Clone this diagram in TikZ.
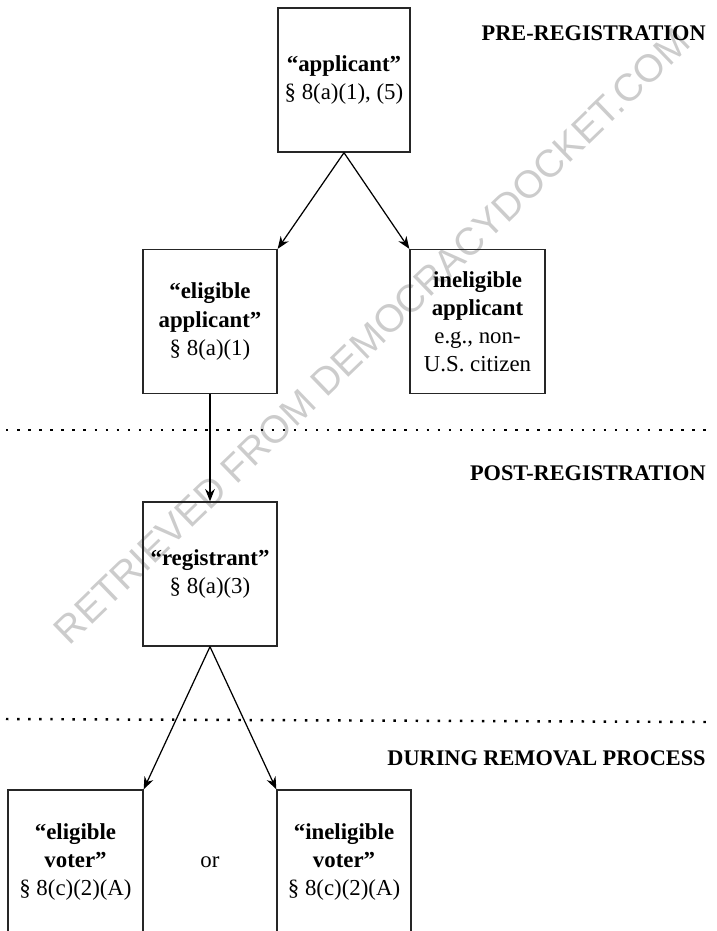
\documentclass[tikz,border=0pt]{standalone}
\usepackage{fontspec}
\setmainfont{Liberation Serif}
\newfontfamily\markfont{Liberation Sans}
\usepackage{tikz}
\usetikzlibrary{shapes.geometric, arrows, arrows.meta}
\tikzstyle{box} = [rectangle, draw=black!85, line width=0.8pt, align=center, inner sep=0pt, font=\fontsize{13}{16}\selectfont]
\tikzstyle{arrow} = [line width=0.7pt,->,>={Stealth[length=7pt, width=5.5pt]}]
\tikzstyle{phase} = [anchor=east, inner sep=0pt, font=\fontsize{12.7}{15}\selectfont\bfseries]
\tikzstyle{divider} = [line width=1.4pt, dash pattern=on 1.4pt off 4.9pt]

\begin{document}
\begin{tikzpicture}[x=0.02cm, y=-0.02cm]
                    \clip (0, 0) rectangle (717, 931);
                    % watermark
                    \node [rotate=44, text=black!20, font=\markfont\fontsize{22}{24}\selectfont] (mark) at (372, 336) {RETRIEVED FROM DEMOCRACYDOCKET.COM};
                    % boxes
                    \node [box, minimum width=2.64cm, minimum height=2.88cm] (app) at (344, 80) {\textbf{“applicant”}\\§ 8(a)(1), (5)};
                    \node [box, minimum width=2.68cm, minimum height=2.88cm] (eapp) at (210, 321.5) {\textbf{“eligible}\\\textbf{applicant”}\\§ 8(a)(1)};
                    \node [box, minimum width=2.7cm, minimum height=2.88cm] (iapp) at (477.5, 321.5) {\textbf{ineligible}\\\textbf{applicant}\\e.g., non-\\U.S. citizen};
                    \node [box, minimum width=2.68cm, minimum height=2.88cm] (reg) at (210, 574) {\textbf{“registrant”}\\§ 8(a)(3)};
                    \node [box, minimum width=2.7cm, minimum height=2.88cm] (evot) at (75.5, 862) {\textbf{“eligible}\\\textbf{voter”}\\§ 8(c)(2)(A)};
                    \node [box, minimum width=2.68cm, minimum height=2.88cm] (ivot) at (344, 862) {\textbf{“ineligible}\\\textbf{voter”}\\§ 8(c)(2)(A)};
                    \node [font=\fontsize{13}{16}\selectfont] (or) at (210, 862) {or};
                    % phases
                    \node [phase] (pre) at (706, 33) {PRE-REGISTRATION};
                    \node [phase] (post) at (706, 473) {POST-REGISTRATION};
                    \node [phase] (during) at (706, 758) {DURING REMOVAL PROCESS};
                    \coordinate (l1) at (6, 430);
                    \coordinate (r1) at (714, 430);
                    \coordinate (l2) at (6, 719);
                    \coordinate (r2) at (707, 722);
                    \draw [divider] (l1) -- (r1);
                    \draw [divider] (l2) -- (r2);
                    % arrows
                    \draw [arrow] (app.south) -- (eapp.north east);
                    \draw [arrow] (app.south) -- (iapp.north west);
                    \draw [arrow] (eapp.south) -- (reg.north);
                    \draw [arrow] (reg.south) -- (evot.north east);
                    \draw [arrow] (reg.south) -- (ivot.north west);
                \end{tikzpicture}
\end{document}
